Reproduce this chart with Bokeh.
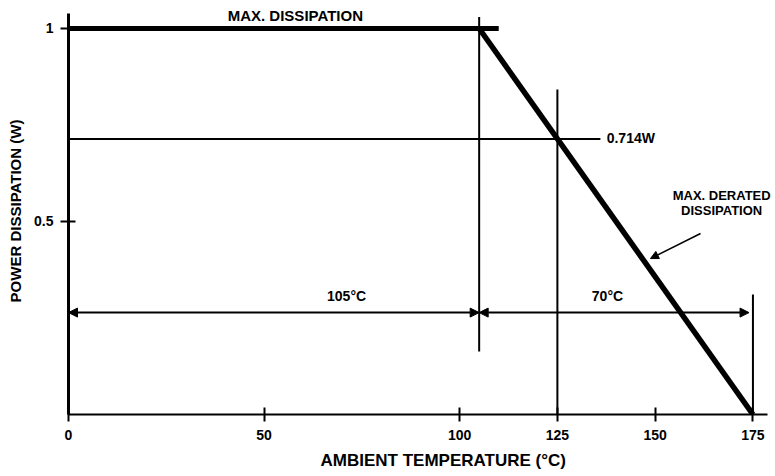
from bokeh.plotting import figure
from bokeh.models import Range1d, FixedTicker, Label, Arrow, NormalHead, Title
from bokeh.embed import file_html
from bokeh.resources import INLINE

# ---------------- data ----------------
x_ticks = [0, 50, 100, 125, 150, 175]
y_ticks = [0.5, 1]
y_tick_labels = ["0.5", "1"]

# power derating curve (W vs ambient temperature, degC)
max_diss_temp = [0, 110]
max_diss_power = [1.0, 1.0]
derate_temp = [105, 175]
derate_power = [1.0, 0.0]

# reference point
point_temp = 125
point_power = 0.714

# guide lines
vline_temp = [105, 125, 175]
vline_low = [0.163, 0.0, 0.0]
vline_high = [1.03, 0.842, 0.311]
hline_start = [0]
hline_end = [136]
hline_power = [0.714]

# dimension arrows (105 degC span and 70 degC span)
dim_power = 0.264
span1 = [0, 105]
span2 = [105, 174]

# pointer arrow to derated line
pointer_from = (161.6, 0.469)
pointer_to = (148.8, 0.404)

FONT = "Liberation Sans"

p = figure(frame_width=704, frame_height=407,
           x_range=Range1d(0, 180), y_range=Range1d(0, 1.0544),
           output_backend="svg", toolbar_location=None,
           min_border_left=68, min_border_top=7, min_border_right=0, min_border_bottom=56,
           background_fill_color="white", border_fill_color="white",
           outline_line_color=None)
p.xgrid.visible = False
p.ygrid.visible = False

# axes
xa = p.xaxis[0]
xa.ticker = FixedTicker(ticks=x_ticks)
xa.bounds = (0, 178.8)
xa.axis_line_width = 2
xa.major_tick_in = 7
xa.major_tick_out = 7
xa.major_tick_line_width = 2
xa.minor_tick_line_color = None
xa.major_label_text_font = FONT
xa.major_label_text_font_style = "bold"
xa.major_label_text_font_size = "14px"
xa.major_label_text_color = "black"
xa.major_label_standoff = 8

ya = p.yaxis[0]
ya.ticker = FixedTicker(ticks=y_ticks)
ya.bounds = (0, 1.039)
ya.major_label_overrides = {t: s for t, s in zip(y_ticks, y_tick_labels)}
ya.axis_line_width = 3
ya.major_tick_in = 7
ya.major_tick_out = 8
ya.major_tick_line_width = 2
ya.minor_tick_line_color = None
ya.major_label_text_font = FONT
ya.major_label_text_font_style = "bold"
ya.major_label_text_font_size = "14px"
ya.major_label_text_color = "black"
ya.major_label_standoff = 7
ya.axis_label = "POWER DISSIPATION (W)"
ya.axis_label_text_font = FONT
ya.axis_label_text_font_style = "bold"
ya.axis_label_text_font_size = "15px"
ya.axis_label_text_color = "black"
ya.axis_label_standoff = 7

# x axis title (offset to the right like the original)
p.add_layout(Title(text="AMBIENT TEMPERATURE (°C)", align="left", offset=252,
                   text_font=FONT, text_font_style="bold", text_font_size="17px",
                   text_color="black", standoff=12), "below")

# curves
p.line(max_diss_temp, max_diss_power, line_width=5, line_color="black")
p.line(derate_temp, derate_power, line_width=5.5, line_color="black")

# guide lines
p.segment(x0=vline_temp, y0=vline_low, x1=vline_temp, y1=vline_high,
          line_width=2, line_color="black")
p.segment(x0=hline_start, y0=hline_power, x1=hline_end, y1=hline_power,
          line_width=2, line_color="black")

# dimension arrows
for a, b in (span1, span2):
    p.add_layout(Arrow(start=NormalHead(size=9, fill_color="black", line_color="black"),
                       end=NormalHead(size=9, fill_color="black", line_color="black"),
                       x_start=a, y_start=dim_power, x_end=b, y_end=dim_power,
                       line_width=2, line_color="black"))

p.add_layout(Arrow(end=NormalHead(size=8, fill_color="black", line_color="black"),
                   x_start=pointer_from[0], y_start=pointer_from[1],
                   x_end=pointer_to[0], y_end=pointer_to[1],
                   line_width=1.5, line_color="black"))

def lab(x, y, text, size="14px", align="center"):
    p.add_layout(Label(x=x, y=y, text=text, text_align=align, text_baseline="middle",
                       text_font=FONT, text_font_style="bold", text_font_size=size,
                       text_color="black"))

lab(58.0, 1.033, "MAX. DISSIPATION", "15px")
lab(137.6, 0.717, "0.714W", "14px", "left")
lab(71.1, 0.308, "105°C", "14px")
lab(137.8, 0.308, "70°C", "14px")
lab(167.0, 0.567, "MAX. DERATED", "13px")
lab(167.0, 0.528, "DISSIPATION", "13px")

open("out.html", "w").write(file_html(p, INLINE))
